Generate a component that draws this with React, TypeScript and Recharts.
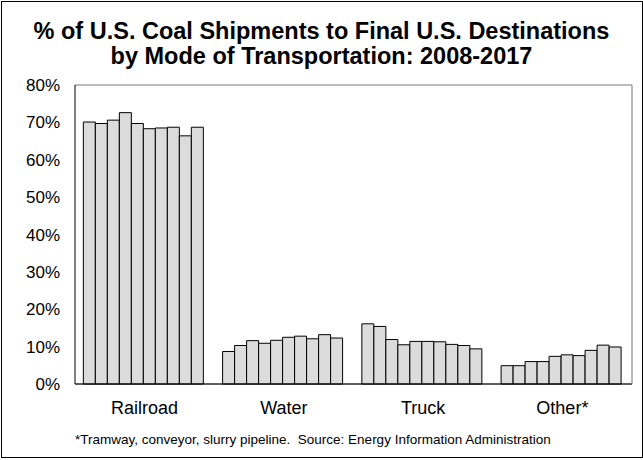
import { BarChart, Bar, XAxis, YAxis, CartesianGrid } from "recharts";

const modes = ["Railroad", "Water", "Truck", "Other*"];
const years = ["2008", "2009", "2010", "2011", "2012", "2013", "2014", "2015", "2016", "2017"];

// share of shipments (%) per mode, 2008..2017
const railroad = [70.1, 69.7, 70.6, 72.6, 69.7, 68.3, 68.5, 68.7, 66.4, 68.7];
const water = [8.7, 10.3, 11.6, 10.9, 11.7, 12.5, 12.8, 12.1, 13.2, 12.3];
const truck = [16.1, 15.4, 11.9, 10.5, 11.4, 11.4, 11.3, 10.6, 10.3, 9.4];
const other = [4.9, 4.9, 6.0, 6.0, 7.4, 7.8, 7.6, 9.0, 10.4, 9.9];

const yTicks = [0, 10, 20, 30, 40, 50, 60, 70, 80];

const series = [railroad, water, truck, other];
const data = modes.map((mode, i) => {
  const row: Record<string, string | number> = { mode };
  years.forEach((y, j) => {
    row[y] = series[i][j];
  });
  return row;
});

const font = '"Liberation Sans", Arial, sans-serif';

export default function App() {
  return (
    <div
      style={{
        position: "absolute",
        left: 0,
        top: 0,
        width: 643,
        height: 460,
        fontFamily: font,
        background: "#fff",
      }}
    >
      <div
        style={{
          position: "absolute",
          left: 1,
          top: 1,
          width: 640,
          height: 455,
          border: "1px solid #000",
        }}
      />
      <div
        style={{
          position: "absolute",
          left: 0,
          top: 19,
          width: 643,
          textAlign: "center",
          fontWeight: "bold",
          fontSize: 23.5,
          lineHeight: "25px",
          color: "#000",
        }}
      >
        % of U.S. Coal Shipments to Final U.S. Destinations
        <br />
        by Mode of Transportation: 2008-2017
      </div>
      <div style={{ position: "absolute", left: 0, top: 0 }}>
        <BarChart
          width={643}
          height={460}
          data={data}
          margin={{ top: 85, right: 10, bottom: 36, left: 15 }}
          barCategoryGap="6%"
          barGap={0}
        >
          <CartesianGrid vertical={false} stroke="#777" />
          <XAxis
            dataKey="mode"
            height={40}
            tickLine={false}
            axisLine={{ stroke: "#000" }}
            tick={{ fill: "#000", fontSize: 18, fontFamily: font }}
            tickMargin={11}
          />
          <YAxis
            yAxisId="left"
            domain={[0, 80]}
            ticks={yTicks}
            interval={0}
            width={60}
            tickSize={0}
            tickMargin={15}
            tickFormatter={(v) => `${v}%`}
            axisLine={{ stroke: "#000" }}
            tick={{ fill: "#000", fontSize: 17, fontFamily: font }}
          />
          <YAxis
            yAxisId="right"
            orientation="right"
            domain={[0, 80]}
            width={1}
            tick={false}
            tickLine={false}
            axisLine={{ stroke: "#777" }}
          />
          {years.map((y) => (
            <Bar
              key={y}
              yAxisId="left"
              dataKey={y}
              fill="#dcdcdc"
              stroke="#000"
              strokeWidth={1}
              isAnimationActive={false}
            />
          ))}
        </BarChart>
      </div>
      <div
        style={{
          position: "absolute",
          left: 75,
          top: 432,
          fontSize: 13.5,
          color: "#000",
          whiteSpace: "nowrap",
        }}
      >
        *Tramway, conveyor, slurry pipeline.&nbsp;&nbsp;Source: Energy Information Administration
      </div>
    </div>
  );
}
